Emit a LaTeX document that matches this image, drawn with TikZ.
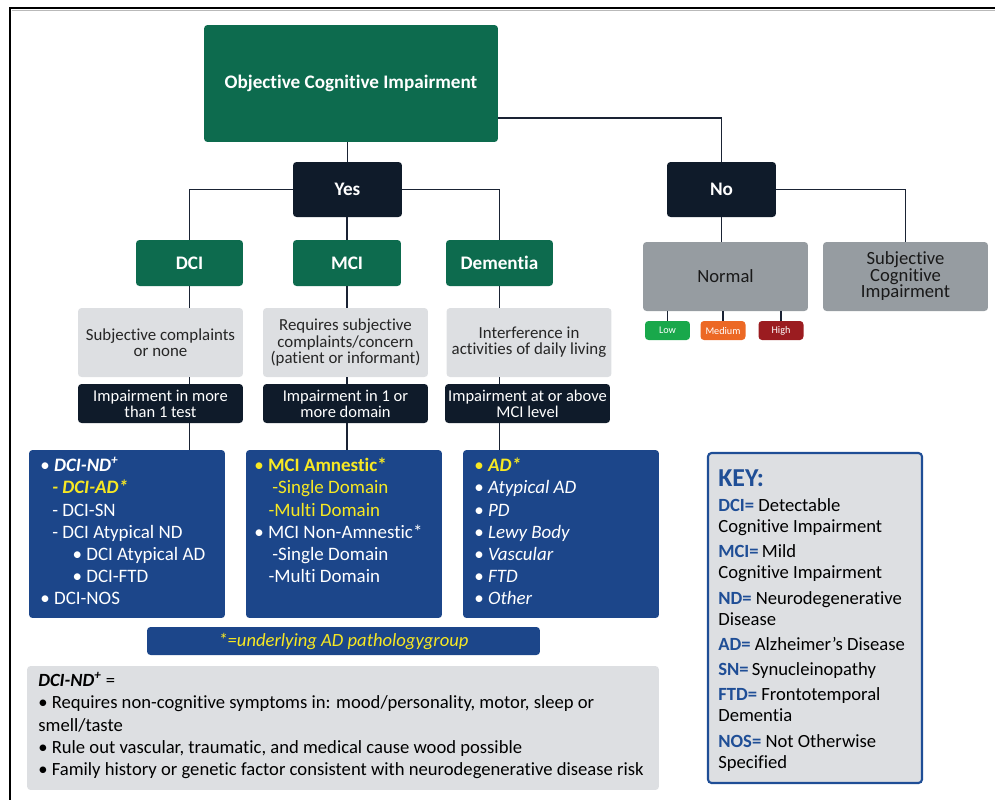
\documentclass[tikz,border=0pt]{standalone}
\usepackage{fontspec}
\setmainfont{Carlito}[Ligatures=NoCommon]

\definecolor{ocigreen}{RGB}{13,107,78}
\definecolor{ocinavy}{RGB}{15,27,42}
\definecolor{ocilight}{RGB}{221,223,226}
\definecolor{ocigrey}{RGB}{150,156,161}
\definecolor{ociblue}{RGB}{28,70,138}
\definecolor{ociyellow}{RGB}{247,232,35}
\definecolor{keyblue}{RGB}{31,78,150}
\definecolor{lowgreen}{RGB}{25,168,75}
\definecolor{medorange}{RGB}{236,104,36}
\definecolor{highred}{RGB}{155,28,32}
\definecolor{linecol}{RGB}{26,35,52}

\newcommand{\fonttitle}{\fontsize{10.9}{12}\selectfont}
\newcommand{\fontgrey}{\fontsize{10.6}{9.4}\selectfont}
\newcommand{\fontquery}{\fontsize{9.6}{9.2}\selectfont}
\newcommand{\fonttest}{\fontsize{9.4}{9.1}\selectfont}
\newcommand{\fontlist}{\fontsize{10.8}{12.6}\selectfont}
\newcommand{\fontkey}{\fontsize{10.6}{12.1}\selectfont}
\newcommand{\fontnd}{\fontsize{10.6}{12.6}\selectfont}
\newcommand{\fontrisk}{\fontsize{5.8}{6}\selectfont}
\newcommand{\keyterm}[1]{{\bfseries\color{keyblue}#1}}

\begin{document}
\begin{tikzpicture}[x=0.02cm, y=-0.02cm,
    box/.style={rounded corners=2pt, inner sep=0pt, align=center},
    greenbox/.style={box, fill=ocigreen, text=white, font=\fonttitle\bfseries},
    answer/.style={box, fill=ocinavy, text=white, font=\fonttitle\bfseries,
      minimum width=2.18cm, minimum height=1.1cm},
    greybox/.style={box, fill=ocigrey, text=black!90, font=\fontgrey,
      minimum width=3.3cm, minimum height=1.38cm},
    riskbox/.style={box, text=white, font=\fontrisk, minimum width=0.9cm, minimum height=0.38cm},
    querybox/.style={box, fill=ocilight, text=black!85, font=\fontquery,
      minimum width=3.3cm, minimum height=1.38cm},
    testbox/.style={box, fill=ocinavy, text=white, font=\fonttest,
      minimum width=3.3cm, minimum height=0.78cm},
    listbox/.style={box, fill=ociblue, minimum width=3.92cm, minimum height=3.36cm},
    listtext/.style={anchor=north west, inner sep=0pt, align=left, text=white, font=\fontlist},
    conn/.style={draw=linecol, line width=1.1pt}]
  \useasboundingbox (0,0) rectangle (995,799);
  % frame, cut off at the right and bottom
  \draw[line width=1.6pt] (10,805) -- (10,8) -- (1000,8);
  \draw[gray!55, line width=0.6pt] (11.5,10.2) -- (1000,10.2);

  % top levels
  \node[greenbox, minimum width=5.88cm, minimum height=2.34cm] (oci) at (351,83.5) {Objective Cognitive Impairment};
  \node[answer] (yes) at (347.5,189.5) {Yes};
  \node[answer] (no) at (721.5,189.5) {No};
  \node[greenbox, minimum width=2.14cm, minimum height=0.92cm] (dci) at (189.5,263) {DCI};
  \node[greenbox, minimum width=2.16cm, minimum height=0.92cm] (mci) at (347,263) {MCI};
  \node[greenbox, minimum width=2.14cm, minimum height=0.92cm] (dem) at (499.5,263) {Dementia};
  \node[greybox] (normal) at (725.5,276.5) {Normal};
  \node[greybox] (sci) at (905.5,276.5) {Subjective\\Cognitive\\Impairment};
  \node[riskbox, fill=lowgreen] (low) at (667.5,330.5) {Low};
  \node[riskbox, fill=medorange] (medium) at (723,330.5) {Medium};
  \node[riskbox, fill=highred] (high) at (781,330.5) {High};

  % criteria
  \node[querybox] (dciq) at (160.5,342.5) {Subjective complaints\\or none};
  \node[querybox] (mciq) at (345.5,342.5) {Requires subjective\\complaints/concern\\(patient or informant)};
  \node[querybox] (demq) at (529,342.5) {Interference in\\activities of daily living};
  \node[testbox] (dcit) at (160.5,403.5) {Impairment in more\\than 1 test};
  \node[testbox] (mcit) at (345.5,403.5) {Impairment in 1 or\\more domain};
  \node[testbox] (demt) at (527.5,403.5) {Impairment at or above\\MCI level};

  % subtypes
  \node[listbox] (dcil) at (127,534) {};
  \node[listbox] (mcil) at (344,534) {};
  \node[listbox] (deml) at (561,534) {};
  \node[listtext] (dcilist) at (40,456) {\strut• \textbf{\textit{DCI-ND\textsuperscript{+}}}\\
    \hspace*{0.63em}{\color{ociyellow}\textbf{\textit{- DCI-AD*}}}\\
    \hspace*{0.63em}- DCI-SN\\
    \hspace*{0.63em}- DCI Atypical ND\\
    \hspace*{1.7em}• DCI Atypical AD\\
    \hspace*{1.7em}• DCI-FTD\\
    • DCI-NOS};
  \node[listtext] (mcilist) at (254,456) {\strut{\color{ociyellow}• \textbf{MCI Amnestic*}}\\
    \hspace*{0.95em}{\color{ociyellow}-Single Domain}\\
    \hspace*{0.75em}{\color{ociyellow}-Multi Domain}\\
    • MCI Non-Amnestic*\\
    \hspace*{0.95em}-Single Domain\\
    \hspace*{0.75em}-Multi Domain};
  \node[listtext] (demlist) at (474,456) {\strut{\color{ociyellow}• \textbf{\textit{AD*}}}\\
    • \textit{Atypical AD}\\
    • \textit{PD}\\
    • \textit{Lewy Body}\\
    • \textit{Vascular}\\
    • \textit{FTD}\\
    • \textit{Other}};

  % footnotes
  \node[box, fill=ociblue, minimum width=7.86cm, minimum height=0.56cm, text=ociyellow,
        font=\fontsize{10.6}{11}\selectfont\itshape] (note) at (343.5,641) {*=underlying AD pathologygroup};
  \node[box, fill=ocilight, minimum width=12.64cm, minimum height=2.48cm] (ndbox) at (343,728) {};
  \node[anchor=north west, inner sep=0pt, align=left, font=\fontnd] (ndtext) at (38,671)
    {\strut\textbf{\textit{DCI-ND\textsuperscript{+}}} =\\
     • Requires non-cognitive symptoms in: mood/personality, motor, sleep or\\
     smell/taste\\
     • Rule out vascular, traumatic, and medical cause wood possible\\
     • Family history or genetic factor consistent with neurodegenerative disease risk};

  % key
  \node[box, fill=ocilight, draw=keyblue, line width=1.2pt, minimum width=4.28cm, minimum height=6.6cm] (key) at (815,618) {};
  \node[anchor=base west, inner sep=0pt, text=keyblue, font=\fontsize{14.7}{16}\selectfont\bfseries] (keyhead) at (718,486) {KEY:};
  \node[anchor=north west, inner sep=0pt, align=left, font=\fontkey] (keytext) at (718,496)
    {\strut\keyterm{DCI=} Detectable\\Cognitive Impairment\\[2.2pt]
     \keyterm{MCI=}\,Mild\\Cognitive Impairment\\[2.2pt]
     \keyterm{ND=} Neurodegenerative\\Disease\\[2.2pt]
     \keyterm{AD=} Alzheimer’s Disease\\[2.2pt]
     \keyterm{SN=}\,Synucleinopathy\\[2.2pt]
     \keyterm{FTD=} Frontotemporal\\Dementia\\[2.2pt]
     \keyterm{NOS=} Not Otherwise\\Specified};

  % connectors
  \draw[conn] (yes.north) -- (yes.north |- oci.south);
  \draw[conn] (oci.east |- 0,118) -| (no);
  \draw[conn] (yes) -| (dci);
  \draw[conn] (yes) -| (dem);
  \draw[conn] (mci.north) -- (mci.north |- yes.south);
  \draw[conn] (no) -| (sci);
  \draw[conn] (no.south) -- (no.south |- normal.north);
  \draw[conn] (low.north) -- (low.north |- normal.south);
  \draw[conn] (medium.north) -- (medium.north |- normal.south);
  \draw[conn] (high.north) -- (high.north |- normal.south);
  \draw[conn] (dci.south) -- (dci.south |- dciq.north)
              (dci.south |- dciq.south) -- (dci.south |- dcit.north)
              (dci.south |- dcit.south) -- (dci.south |- dcil.north);
  \draw[conn] (mci.south) -- (mci.south |- mciq.north)
              (mci.south |- mciq.south) -- (mci.south |- mcit.north)
              (mci.south |- mcit.south) -- (mci.south |- mcil.north);
  \draw[conn] (dem.south) -- (dem.south |- demq.north)
              (dem.south |- demq.south) -- (dem.south |- demt.north)
              (dem.south |- demt.south) -- (dem.south |- deml.north);
\end{tikzpicture}
\end{document}
